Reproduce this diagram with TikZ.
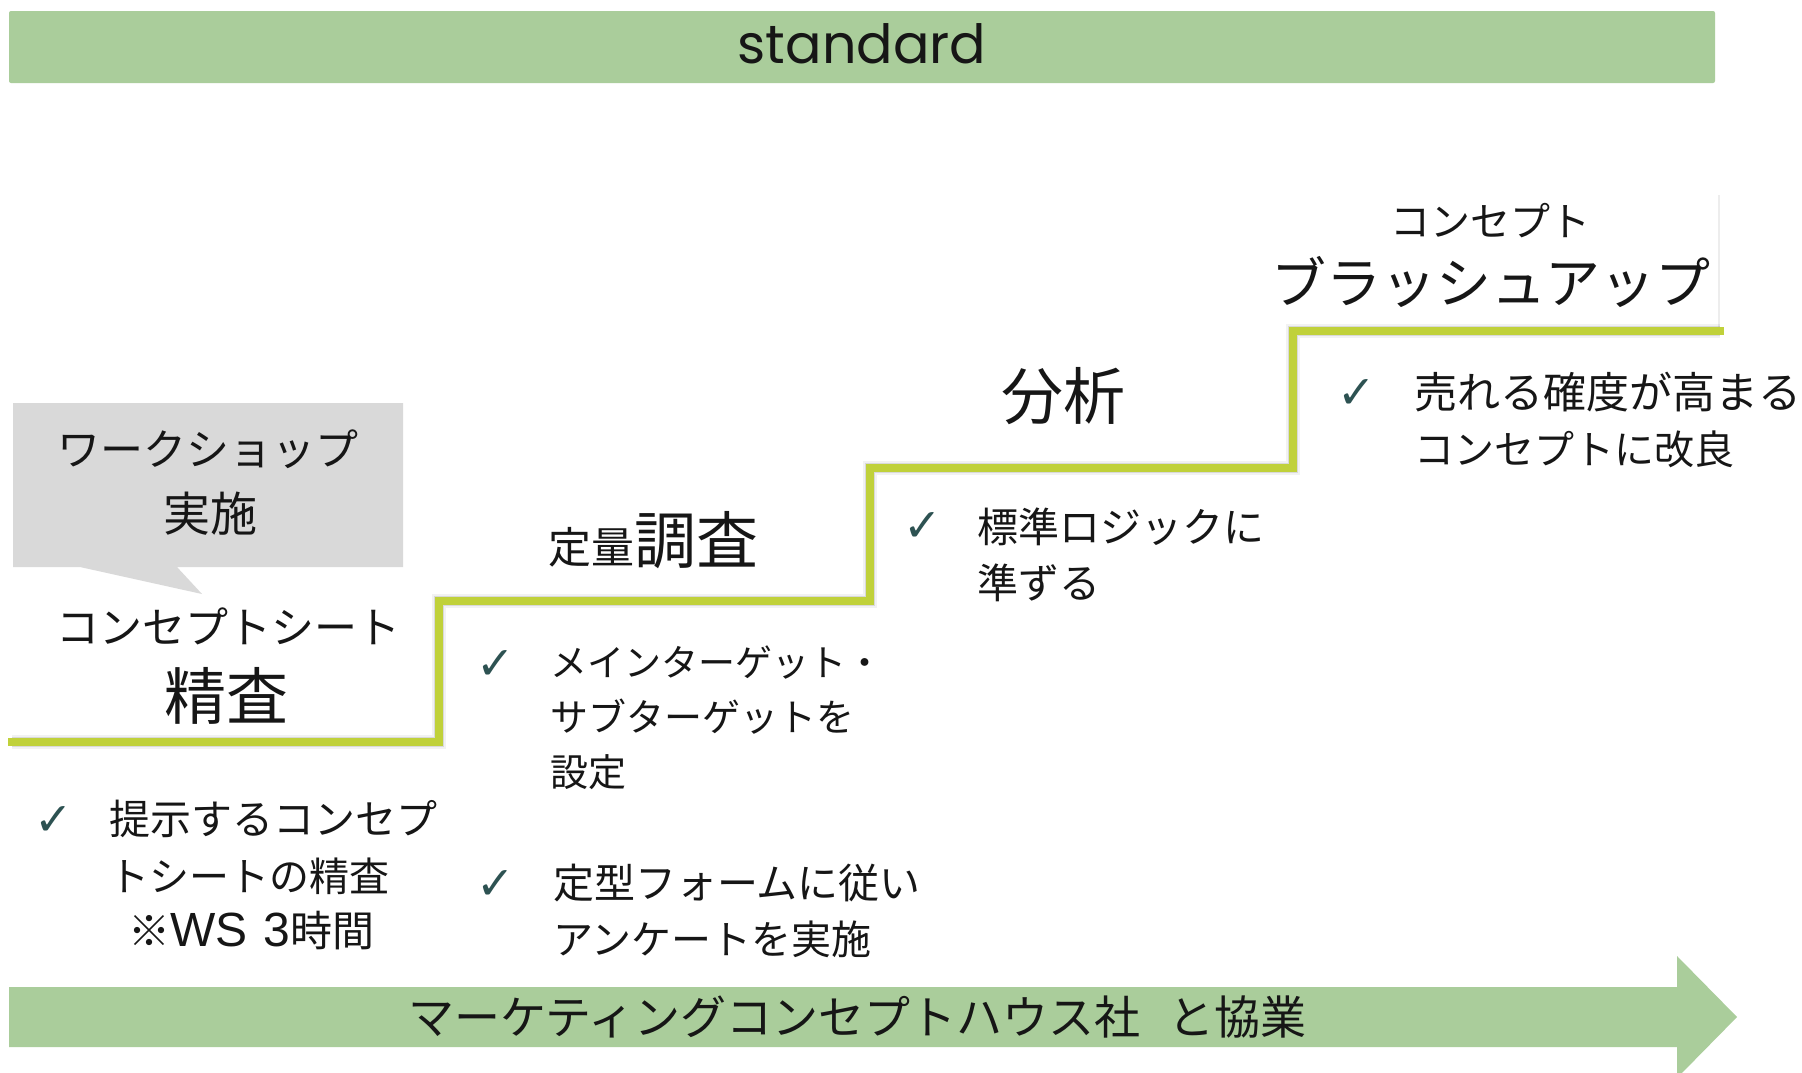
\documentclass[tikz,border=0pt]{standalone}
\usepackage{fontspec}
\setmainfont{Noto Sans CJK JP}
\newfontfamily\latinfont{Poppins}
\newfontfamily\symfont{DejaVu Sans}
\newfontfamily\arialfont{Liberation Sans}
\newcommand{\setpx}[1]{\fontsize{#1pt}{#1pt}\selectfont}
\definecolor{barg}{RGB}{170,205,155}
\definecolor{stairc}{RGB}{192,209,58}
\definecolor{callg}{RGB}{217,217,217}
\definecolor{txtcol}{RGB}{22,22,22}
\definecolor{chk}{RGB}{45,82,82}
\begin{document}
\begin{tikzpicture}[x=0.5pt,y=-0.5pt,
  txt/.style={inner sep=0pt, outer sep=0pt, text=txtcol},
  lft/.style={txt, anchor=west},
  chkmark/.style={inner sep=0pt, text=chk, font=\symfont\setpx{23}},
  bar/.style={fill=barg, draw=none},
  stair/.style={draw=stairc, line width=4.2pt, line join=miter, line cap=rect},
  stairshadow/.style={draw=black, line join=miter}]
\useasboundingbox (0,0) rectangle (1802,1072);
\clip (0,0) rectangle (1802,1072);
\fill[white] (0,0) rectangle (1802,1072);

% top bar
\path[bar, rounded corners=1pt] (9,11) rectangle (1715,83);
\node[txt, anchor=base, font=\latinfont\setpx{27}] (std) at (862,63) {standard};

% faint text box edge top right
\draw[black!7, line width=0.6pt] (1719,195) -- (1719,327);

% callout
\path[fill=callg] (13,403) -- (403,403) -- (403,567) -- (177,567) -- (202,594) -- (80,567) -- (13,567) -- cycle;
\node[txt, font=\setpx{21.5}] (ws1) at (208,449) {ワークショップ};
\node[txt, font=\setpx{23.5}] (ws2) at (210,514) {実施};

% staircase
\coordinate (s0) at (12,742);
\coordinate (s1) at (439,742);
\coordinate (s2) at (439,601);
\coordinate (s3) at (870,601);
\coordinate (s4) at (870,468);
\coordinate (s5) at (1293,468);
\coordinate (s6) at (1293,331);
\coordinate (s7) at (1720,331);
\begin{scope}[shift={(4,5)}]
\draw[stairshadow, line width=7pt, opacity=0.05] (s0) -- (s1) -- (s2) -- (s3) -- (s4) -- (s5) -- (s6) -- (s7);
\draw[stairshadow, line width=5pt, opacity=0.10] (s0) -- (s1) -- (s2) -- (s3) -- (s4) -- (s5) -- (s6) -- (s7);
\end{scope}
\draw[stair] (s0) -- (s1) -- (s2) -- (s3) -- (s4) -- (s5) -- (s6) -- (s7);

% step titles
\node[txt, font=\setpx{21.5}] (cs) at (228,626) {コンセプトシート};
\node[txt, font=\setpx{31}] (seisa) at (226,696) {精査};
\node[txt] (teiryo) at (653,540) {{\setpx{21.5}定量}{\setpx{31}調査}};
\node[txt, font=\setpx{31}] (bunseki) at (1063,396) {分析};
\node[txt, font=\setpx{20}] (cpt) at (1490,221) {コンセプト};
\node[txt, font=\setpx{27.5}] (brush) at (1491,282) {ブラッシュアップ};

% bullets step 1
\node[chkmark] (c1) at (54,821) {✓};
\node[lft, font=\setpx{20.5}] (b1a) at (109,819) {提示するコンセプ};
\node[lft, font=\setpx{20}] (b1b) at (109,876) {トシートの精査};
\node[lft, font=\setpx{21}] (b1c) at (128,931) {※{\arialfont\setpx{24}WS\hspace{8pt}3}時間};

% bullets step 2
\node[chkmark] (c2) at (496,665) {✓};
\node[lft, font=\setpx{18.5}] (b2a) at (550,663) {メインターゲット・};
\node[lft, font=\setpx{19}] (b2b) at (550,717) {サブターゲットを};
\node[lft, font=\setpx{19}] (b2c) at (550,772) {設定};
\node[chkmark] (c3) at (496,885) {✓};
\node[lft, font=\setpx{20.5}] (b2d) at (553,883) {定型フォームに従い};
\node[lft, font=\setpx{20}] (b2e) at (553,939) {アンケートを実施};

% bullets step 3
\node[chkmark] (c4) at (923,527) {✓};
\node[lft, font=\setpx{20.5}] (b3a) at (977,527) {標準ロジックに};
\node[lft, font=\setpx{20.5}] (b3b) at (977,583) {準ずる};

% bullets step 4
\node[chkmark] (c5) at (1357,394) {✓};
\node[lft, font=\setpx{21.5}] (b4a) at (1414,392) {売れる確度が高まる};
\node[lft, font=\setpx{20}] (b4b) at (1414,449) {コンセプトに改良};

% bottom arrow
\path[bar] (9,987) -- (1677,987) -- (1677,956) -- (1737,1017) -- (1677,1078) -- (1677,1047) -- (9,1047) -- cycle;
\node[lft, font=\setpx{23}] (collab) at (408,1017) {マーケティングコンセプトハウス社\hspace{14pt}と協業};
\end{tikzpicture}
\end{document}
